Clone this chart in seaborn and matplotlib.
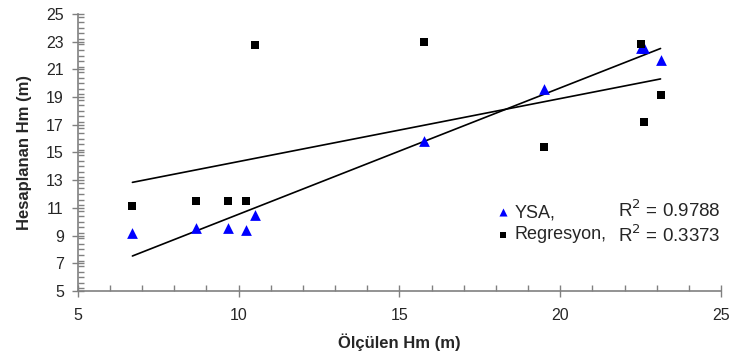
import matplotlib
matplotlib.use('Agg')
import matplotlib.pyplot as plt
from matplotlib.ticker import MultipleLocator
import seaborn as sns
import pandas as pd

# Olculen Hm (m) ve hesaplanan degerler
olculen = [6.70, 8.68, 9.68, 10.22, 10.50, 15.78, 19.49, 22.52, 22.62, 23.12]
ysa = [9.21, 9.55, 9.57, 9.40, 10.49, 15.81, 19.56, 22.55, 22.55, 21.68]
regresyon = [11.12, 11.48, 11.48, 11.48, 22.76, 22.96, 15.42, 22.86, 17.18, 19.13]
r2_ysa = 0.9788
r2_reg = 0.3373

df = pd.DataFrame({"olculen": olculen, "ysa": ysa, "regresyon": regresyon})

sns.set_style("ticks")
plt.rcParams['font.family'] = ['Liberation Sans', 'DejaVu Sans']

fig = plt.figure(figsize=(7.34, 3.58), dpi=100)
ax = fig.add_axes([0.1059, 0.1872, 0.8764, 0.7737])

# trend lines (linear fit, like the Excel trendline)
sns.regplot(data=df, x="olculen", y="ysa", scatter=False, ci=None,
            color="black", line_kws={"lw": 1.2}, ax=ax)
sns.regplot(data=df, x="olculen", y="regresyon", scatter=False, ci=None,
            color="black", line_kws={"lw": 1.2}, ax=ax)

sns.scatterplot(data=df, x="olculen", y="ysa", marker="^", color="#0000ff",
                s=60, linewidth=0, label="YSA,", ax=ax, zorder=3)
sns.scatterplot(data=df, x="olculen", y="regresyon", marker="s", color="black",
                s=40, linewidth=0, label="Regresyon,", ax=ax, zorder=4)

ax.set_xlim(5, 25)
ax.set_ylim(5, 25)
ax.xaxis.set_major_locator(MultipleLocator(5))
ax.xaxis.set_minor_locator(MultipleLocator(1))
ax.yaxis.set_minor_locator(MultipleLocator(0.4))
ax.set_yticks([5, 7, 9, 11, 13, 15, 17, 19, 21, 23, 25])

spine_col = "#808080"
for side in ["top", "right"]:
    ax.spines[side].set_visible(False)
for side in ["left", "bottom"]:
    ax.spines[side].set_color(spine_col)
    ax.spines[side].set_linewidth(1.2)

ax.tick_params(axis="both", which="major", direction="inout", length=8,
               width=1, color=spine_col, labelsize=11.5)
ax.tick_params(axis="both", which="minor", direction="in", length=4,
               width=1, color=spine_col)
ax.tick_params(axis="x", which="major", pad=8)
ax.tick_params(axis="y", which="major", pad=6)

ax.set_xlabel("Ölçülen Hm (m)", fontsize=12, fontweight="bold", labelpad=8)
ax.set_ylabel("Hesaplanan Hm (m)", fontsize=12, fontweight="bold", labelpad=10)

leg = ax.legend(loc="center left", bbox_to_anchor=(0.675, 0.375),
                bbox_transform=fig.transFigure, frameon=False,
                fontsize=13, handletextpad=0.25, handlelength=0.8,
                borderaxespad=0, borderpad=0, labelspacing=0.3, markerscale=0.75)

ax.text(24.98, 10.85, "R$^2$ = %.4f" % r2_ysa, ha="right", va="center", fontsize=13.5)
ax.text(24.98, 9.04, "R$^2$ = %.4f" % r2_reg, ha="right", va="center", fontsize=13.5)

plt.savefig("out.png", dpi=100)
plt.close()
